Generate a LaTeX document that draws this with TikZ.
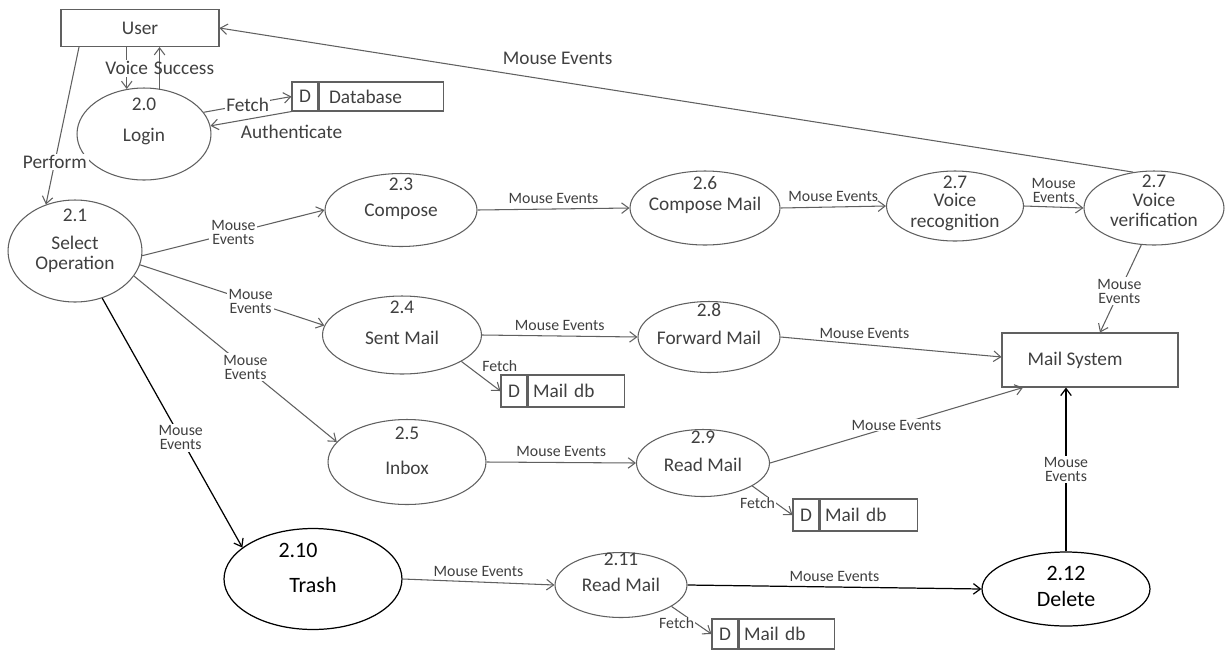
\documentclass[tikz,border=0pt]{standalone}
\usepackage{fontspec}
\setmainfont{Carlito}
\usetikzlibrary{arrows.meta, positioning, shapes.geometric}

\definecolor{linec}{HTML}{606060}
\definecolor{txtc}{HTML}{404040}

\begin{document}
\begin{tikzpicture}[
        x=0.02cm, y=-0.02cm,
        every node/.style={text=txtc, font=\fontsize{11}{11.5}\selectfont},
        proc/.style={ellipse, draw=linec, line width=0.6pt, inner sep=0pt},
        darkproc/.style={ellipse, draw=black, line width=0.7pt, inner sep=0pt},
        num/.style={anchor=north, inner sep=0pt, yshift=-(#1)*0.02cm},
        pname/.style={inner sep=0pt, align=center, yshift=-(#1)*0.02cm},
        bigtxt/.style={font=\fontsize{12.5}{13}\selectfont, text=black},
        ent/.style={rectangle, draw=linec, line width=0.6pt},
        dbox/.style={rectangle, draw=linec, line width=0.6pt, minimum width=0.52cm, inner sep=0pt},
        dname/.style={rectangle, draw=linec, line width=0.6pt, inner ysep=0pt, align=left},
        flow/.style={draw=linec, line width=0.6pt, -{Straight Barb[length=4pt, width=6pt]}},
        darkflow/.style={flow, draw=black, line width=0.7pt},
        lbl/.style={inner sep=1pt},
        evt/.style={font=\fontsize{9}{8}\selectfont, inner sep=1pt, align=center},
        onl/.style={fill=white}
    ]

    \path[use as bounding box, fill=white] (0,0) rectangle (1225,650);

    % Entities
    \node[ent, minimum width=3.16cm, minimum height=0.74cm] (user) at (140,28) {User};
    \node[ent, minimum width=3.52cm, minimum height=1.08cm] (mailsys) at (1090,360) {Mail System\hspace*{0.6cm}};

    % Processes
    \node[proc, minimum width=2.68cm, minimum height=1.84cm, label={[num=10]north:2.0}, label={[pname=3]center:Login}] (login) at (144,134) {};
    \node[proc, minimum width=2.68cm, minimum height=2.04cm, label={[num=9]north:2.1}, label={[pname=3]center:Select\\Operation}] (sel) at (75,251) {};
    \node[proc, minimum width=3.04cm, minimum height=1.46cm, label={[num=5]north:2.3}, label={[pname=2]center:Compose}] (compose) at (401,210) {};
    \node[proc, minimum width=3.00cm, minimum height=1.48cm, label={[num=6]north:2.6}, label={[pname=-3]center:Compose Mail}] (cmail) at (705,208) {};
    \node[proc, minimum width=2.74cm, minimum height=1.40cm, label={[num=5]north:2.7}, label={[pname=6]center:Voice\\recognition}] (vrec) at (955,206) {};
    \node[proc, minimum width=2.80cm, minimum height=1.48cm, label={[num=4]north:2.7}, label={[pname=2]center:Voice\\verification}] (vver) at (1154,208) {};
    \node[proc, minimum width=3.18cm, minimum height=1.56cm, label={[num=5]north:2.4}, label={[pname=3]center:Sent Mail}] (sent) at (402,335) {};
    \node[proc, minimum width=2.84cm, minimum height=1.42cm, label={[num=2]north:2.8}, label={[pname=1]center:Forward Mail}] (fwd) at (709,337) {};
    \node[proc, minimum width=3.16cm, minimum height=1.70cm, label={[num=8]north:2.5}, label={[pname=6]center:Inbox}] (inbox) at (407,462) {};
    \node[proc, minimum width=2.66cm, minimum height=1.34cm, label={[num=2]north:2.9}, label={[pname=2]center:Read Mail}] (rm1) at (703,463) {};
    \node[darkproc, minimum width=3.56cm, minimum height=2.02cm, label={[num=15, bigtxt, xshift=-0.3cm]north:2.10}, label={[pname=6, bigtxt]center:Trash}] (trash) at (313,579) {};
    \node[proc, minimum width=2.64cm, minimum height=1.30cm, label={[num=1]north:2.11}, label={[pname=0]center:Read Mail}] (rm2) at (621,585) {};
    \node[darkproc, minimum width=3.36cm, minimum height=1.48cm, label={[num=14, bigtxt]north:2.12}, label={[pname=10, bigtxt]center:Delete}] (delete) at (1066,589) {};

    % Data stores
    \node[dbox, minimum height=0.58cm] (dbD) at (305,96.5) {D};
    \node[dname, minimum height=0.58cm, inner xsep=0.2cm, text width=2.08cm, right=0pt of dbD] (db) {Database};
    \node[dbox, minimum height=0.64cm] (mdb1D) at (514,391) {D};
    \node[dname, minimum height=0.64cm, inner xsep=0.1cm, text width=1.72cm, right=0pt of mdb1D] (mdb1) {Mail db};
    \node[dbox, minimum height=0.64cm] (mdb2D) at (806,515) {D};
    \node[dname, minimum height=0.64cm, inner xsep=0.1cm, text width=1.74cm, right=0pt of mdb2D] (mdb2) {Mail db};
    \node[dbox, minimum height=0.60cm] (mdb3D) at (725,634) {D};
    \node[dname, minimum height=0.60cm, inner xsep=0.1cm, text width=1.70cm, right=0pt of mdb3D] (mdb3) {Mail db};

    % Login flows
    \draw[flow] (user.south -| login.111) -- node[lbl, onl] {Voice} (login.111);
    \draw[flow] (login.71) -- node[lbl, anchor=west, xshift=-4.5pt] {Success} (login.71 |- user.south);
    \draw[flow] ([xshift=-1.22cm]user.south) -- node[lbl, onl, pos=0.73] {Perform} (sel.122);
    \draw[flow] (login.20) -- node[lbl, onl, inner sep=0.5pt] {Fetch} (dbD.west);
    \draw[flow] (dbD.south west) -- node[lbl, pos=0, below=6.5pt] {Authenticate} (login.7);

    % Select operation
    \draw[flow] (sel.-4) -- node[evt, onl] {Mouse\\Events} (compose.west);
    \draw[flow] (sel.-12) -- node[evt, onl, pos=0.6] {Mouse\\Events} (sent.173);
    \draw[flow] (sel.-23) -- node[evt, onl, pos=0.55] {Mouse\\Events} (inbox.164);
    \draw[darkflow] (sel.-60) -- node[evt, onl, pos=0.56] {Mouse\\Events} (trash.156);

    % Compose row
    \draw[flow] (compose.east) -- node[evt, above=2pt] {Mouse Events} (cmail.west);
    \draw[flow] (cmail.east) -- node[evt, above=2pt] {Mouse Events} (vrec.west);
    \draw[flow] (vrec.east) -- node[evt, above=1pt] {Mouse\\Events} (vver.west);
    \draw[flow] (vver.120) -- node[lbl, pos=0.63, above=8pt] {Mouse Events} (user.east);
    \draw[flow] (vver.-109) -- node[evt, onl, pos=0.53] {Mouse\\Events} ([xshift=0.2cm]mailsys.north);

    % Sent mail row
    \draw[flow] (sent.east) -- node[evt, above=2pt] {Mouse Events} (fwd.west);
    \draw[flow] (fwd.east) -- node[evt, above=2pt, pos=0.38] {Mouse Events} ([yshift=0.06cm]mailsys.west);
    \draw[flow] (sent.-24) -- node[evt, above right, inner sep=0.5pt, yshift=2pt] {Fetch} (mdb1D.west);

    % Inbox row
    \draw[flow] (inbox.east) -- node[evt, above=2pt] {Mouse Events} (rm1.west);
    \draw[flow] (rm1.east) -- node[evt, onl, inner sep=0.5pt] {Mouse Events} ([xshift=-1.34cm]mailsys.south);
    \draw[flow] (rm1.-25) -- node[evt, onl, pos=0.6, anchor=east, inner sep=0.5pt] {Fetch} (mdb2D.west);

    % Trash row
    \draw[flow] (trash.east) -- node[evt, above=2pt] {Mouse Events} (rm2.west);
    \draw[darkflow] (rm2.east) -- node[evt, above=2pt] {Mouse Events} (delete.west);
    \draw[flow] (rm2.-23) -- node[evt, onl, pos=0.6, anchor=east, inner sep=0.5pt] {Fetch} (mdb3D.west);
    \draw[darkflow] (delete.north) -- node[evt, onl] {Mouse\\Events} (delete.north |- mailsys.south);

\end{tikzpicture}
\end{document}
